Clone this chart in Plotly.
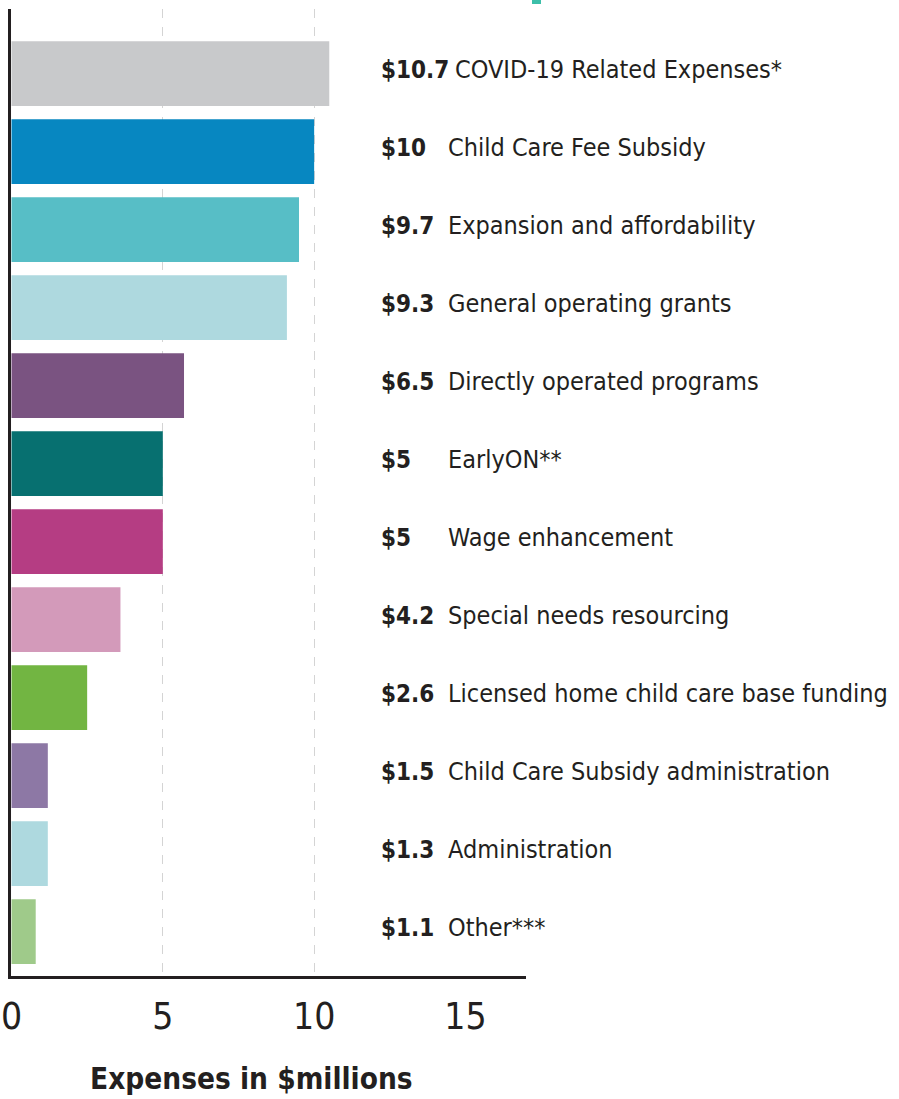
import plotly.graph_objects as go

categories = [
    "COVID-19 Related Expenses*",
    "Child Care Fee Subsidy",
    "Expansion and affordability",
    "General operating grants",
    "Directly operated programs",
    "EarlyON**",
    "Wage enhancement",
    "Special needs resourcing",
    "Licensed home child care base funding",
    "Child Care Subsidy administration",
    "Administration",
    "Other***",
]
# bar lengths as drawn in the picture ($ millions)
bar_values = [10.5, 10.0, 9.5, 9.1, 5.7, 5.0, 5.0, 3.6, 2.5, 1.2, 1.2, 0.8]
# value labels printed beside each bar
value_labels = ["$10.7", "$10", "$9.7", "$9.3", "$6.5", "$5", "$5", "$4.2",
                "$2.6", "$1.5", "$1.3", "$1.1"]
colors = ["#c8c9cb", "#0787c1", "#57bec6", "#aed9df", "#7a5381", "#077070",
          "#b53d83", "#d39aba", "#72b542", "#8d78a5", "#aed9df", "#9fca8a"]
x_ticks = [0, 5, 10, 15]
grid_ticks = [5, 10]
x_title = "Expenses in $millions"

FONT = "DejaVu Sans Condensed, Liberation Sans Narrow, sans-serif"
TXT = "#231f20"

W, H = 899, 1099
ML, MR, MT, MB = 11, 0, 9, 123
PW = W - ML - MR
PH = H - MT - MB

fig = go.Figure()
fig.add_trace(go.Bar(
    x=bar_values, y=categories, orientation="h",
    marker=dict(color=colors, line=dict(width=0)),
    width=0.83, hoverinfo="x+y", showlegend=False,
))
# invisible trace to carry the grid axis
fig.add_trace(go.Scatter(x=[0], y=[categories[0]], xaxis="x2", mode="markers",
                         marker=dict(opacity=0), showlegend=False, hoverinfo="skip"))

def px_to_paper_x(px):
    return (px - ML) / PW

def px_to_paper_y(py):
    return 1 - (py - MT) / PH

annotations = []
for cat, val in zip(categories, value_labels):
    annotations.append(dict(
        x=px_to_paper_x(379), y=cat, xref="paper", yref="y", yshift=4,
        text="<b>" + val + "</b>", showarrow=False, xanchor="left", yanchor="middle",
        font=dict(family=FONT, size=24, color=TXT),
    ))
    name_x = 453 if len(val) >= 5 else 446
    annotations.append(dict(
        x=px_to_paper_x(name_x), y=cat, xref="paper", yref="y", yshift=4,
        text=cat, showarrow=False, xanchor="left", yanchor="middle",
        font=dict(family=FONT, size=25, color=TXT),
    ))
annotations.append(dict(
    x=px_to_paper_x(251), y=px_to_paper_y(1079), xref="paper", yref="paper",
    text="<b>" + x_title + "</b>", showarrow=False, xanchor="center", yanchor="middle",
    font=dict(family=FONT, size=29.5, color=TXT),
))

x0 = -0.5 / 30.3
dom_end = (526 - ML) / PW

fig.update_layout(
    width=W, height=H,
    margin=dict(l=ML, r=MR, t=MT, b=MB, pad=0),
    paper_bgcolor="white", plot_bgcolor="white",
    bargap=0.17,
    xaxis=dict(
        domain=[0, dom_end], range=[x0, 17], tickvals=x_ticks,
        showgrid=False, zeroline=False,
        showline=True, linecolor=TXT, linewidth=2.5,
        ticks="", tickfont=dict(family=FONT, size=37, color=TXT),
        ticklabelstandoff=6,
    ),
    xaxis2=dict(
        domain=[0, dom_end], range=[x0, 17], overlaying="x", tickvals=grid_ticks,
        showgrid=True, gridcolor="#d4d4d4", griddash="dash", gridwidth=1.2,
        showticklabels=False, zeroline=False, showline=False, ticks="",
    ),
    yaxis=dict(
        range=[11.57, -0.83], showticklabels=False, showgrid=False,
        zeroline=False, showline=True, linecolor=TXT, linewidth=2.5, ticks="",
    ),
    annotations=annotations,
    shapes=[dict(type="rect", xref="paper", yref="paper",
                 x0=px_to_paper_x(532), x1=px_to_paper_x(541),
                 y0=px_to_paper_y(4), y1=px_to_paper_y(0),
                 fillcolor="#3cbfa9", line=dict(width=0), layer="above")],
)

fig.write_html("out.html", config={"displayModeBar": False},
               post_script="document.body.style.margin='0';")
